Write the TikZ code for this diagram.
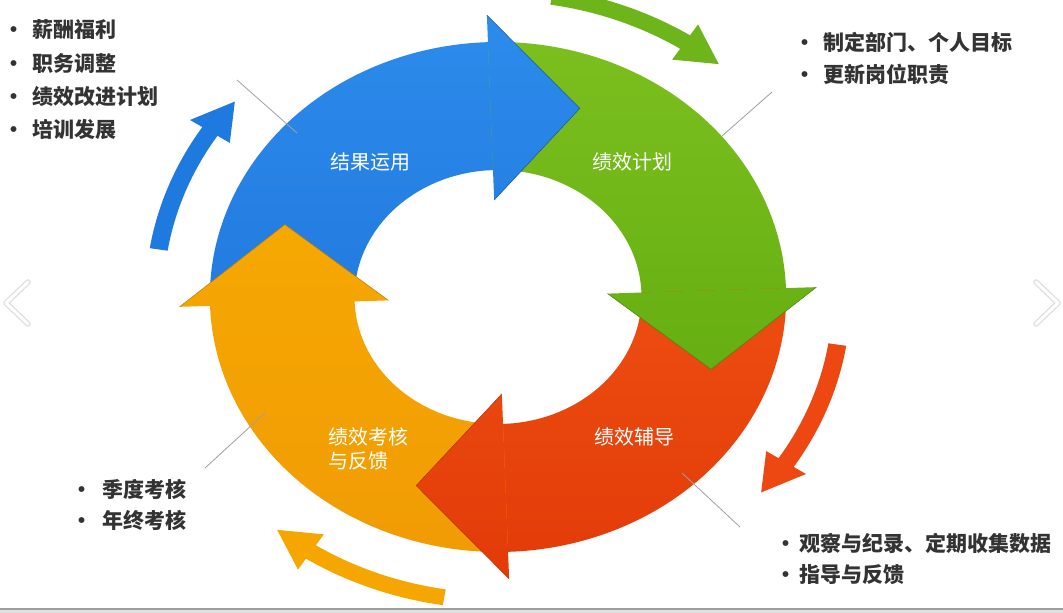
\documentclass[tikz,border=0pt]{standalone}
\usepackage{fontspec}
\newfontfamily\cjk{Noto Sans CJK SC}
\definecolor{bluet}{HTML}{2C8CEC}
\definecolor{blueb}{HTML}{1A6AD2}
\definecolor{greent}{HTML}{7DC11F}
\definecolor{greenb}{HTML}{58A40A}
\definecolor{redt}{HTML}{F8601A}
\definecolor{redb}{HTML}{E23A08}
\definecolor{oranget}{HTML}{F9B000}
\definecolor{orangeb}{HTML}{F09A05}
\definecolor{oblue}{HTML}{1F7ADF}
\definecolor{ogreen}{HTML}{6DB51A}
\definecolor{ored}{HTML}{EE4812}
\definecolor{oorange}{HTML}{F6A600}
\definecolor{txtgray}{HTML}{333333}
\definecolor{linegray}{HTML}{A0A0A0}
\begin{document}
\begin{tikzpicture}[x=1pt,y=1pt,
  bul/.style={anchor=west, inner sep=0pt, text=txtgray, font=\cjk\bfseries\fontsize{21}{25}\selectfont},
  seglabel/.style={text=white, inner sep=0pt, font=\cjk\fontsize{20}{24}\selectfont, align=left},
  callout/.style={draw=linegray, line width=0.8pt},
  chev/.style={line width=3pt, draw=white, line cap=round, line join=round},
  chevshadow/.style={line width=5.5pt, draw=black!13, line cap=round, line join=round}
]
\useasboundingbox (0,0) rectangle (1063,613);
\clip (0,0) rectangle (1063,613);
\fill[white] (0,0) rectangle (1063,613);

\begin{scope}[shift={(498,316)}, xscale=1.13]
  % bands (each runs slightly under its own head to avoid seams)
  \foreach \o/\ct/\cb in {0/bluet/blueb, -90/greent/greenb, -180/redt/redb, -270/oranget/orangeb}{
    \begin{scope}
      \clip ({182+\o}:255) arc[start angle={182+\o}, end angle={90.5+\o}, radius=255]
        -- ({90.5+\o}:127) arc[start angle={90.5+\o}, end angle={182+\o}, radius=127] -- cycle;
      \shade[top color=\ct, bottom color=\cb] (-300,-290) rectangle (300,290);
    \end{scope}
  }
  % heads
  \foreach \o/\ct/\cb in {0/bluet/blueb, -90/greent/greenb, -180/redt/redb, -270/oranget/orangeb}{
    \begin{scope}
      \clip ({92+\o}:97) -- ({92+\o}:282) -- ({69+\o}:202) -- cycle;
      \shade[top color=\ct, bottom color=\cb] (-300,-290) rectangle (300,290);
    \end{scope}
    \draw[\cb!80!black, line width=0.5pt, line join=miter] ({92+\o}:97) -- ({69+\o}:202) -- ({92+\o}:282);
  }
  % outer arrows
  \foreach \o/\co in {0/oblue, -90/ogreen, -180/ored, -270/oorange}{
    \fill[\co] ({171+\o}:312) arc[start angle={171+\o}, end angle={147+\o}, radius=312]
      -- ({147+\o}:325) -- ({140+\o}:304) -- ({147+\o}:283) -- ({147+\o}:296)
      arc[start angle={147+\o}, end angle={171+\o}, radius=296] -- cycle;
  }
\end{scope}

% segment labels
\node[seglabel] (lblA) at (370,451) {结果运用};
\node[seglabel] (lblB) at (632,451) {绩效计划};
\node[seglabel] (lblC) at (634,176) {绩效辅导};
\node[seglabel, anchor=west] (lblD) at (328,164) {绩效考核\\与反馈};

% bullet lists
\node[bul] (tl1) at (14,583) {\makebox[0pt][c]{•}\hspace{18pt}薪酬福利};
\node[bul] (tl2) at (14,549) {\makebox[0pt][c]{•}\hspace{18pt}职务调整};
\node[bul] (tl3) at (14,516) {\makebox[0pt][c]{•}\hspace{18pt}绩效改进计划};
\node[bul] (tl4) at (14,483) {\makebox[0pt][c]{•}\hspace{18pt}培训发展};

\node[bul] (tr1) at (805,571) {\makebox[0pt][c]{•}\hspace{18pt}制定部门、个人目标};
\node[bul] (tr2) at (805,539) {\makebox[0pt][c]{•}\hspace{18pt}更新岗位职责};

\node[bul] (br1) at (786,70) {\makebox[0pt][c]{•}\hspace{13pt}观察与纪录、定期收集数据};
\node[bul] (br2) at (786,38) {\makebox[0pt][c]{•}\hspace{13pt}指导与反馈};

\node[bul] (bl1) at (82,124) {\makebox[0pt][c]{•}\hspace{20pt}季度考核};
\node[bul] (bl2) at (82,93) {\makebox[0pt][c]{•}\hspace{20pt}年终考核};

% callout lines
\coordinate (tlA) at (237,533); \coordinate (tlB) at (297,480);
\coordinate (trA) at (772,521); \coordinate (trB) at (722,477);
\coordinate (brA) at (740,86);  \coordinate (brB) at (682,140);
\coordinate (blA) at (205,145); \coordinate (blB) at (265,200);
\draw[callout] (tlA) -- (tlB);
\draw[callout] (trA) -- (trB);
\draw[callout] (brA) -- (brB);
\draw[callout] (blA) -- (blB);

% side chevrons
\draw[chevshadow] (28,331) -- (6,310) -- (28,289);
\draw[chev] (28,331) -- (6,310) -- (28,289);
\draw[chevshadow] (1036,331) -- (1058,310) -- (1036,289);
\draw[chev] (1036,331) -- (1058,310) -- (1036,289);

% bottom strip
\fill[black!12] (0,0) rectangle (1063,4);
\draw[black!38, line width=1.4pt] (0,4) -- (1063,4);
\end{tikzpicture}
\end{document}
